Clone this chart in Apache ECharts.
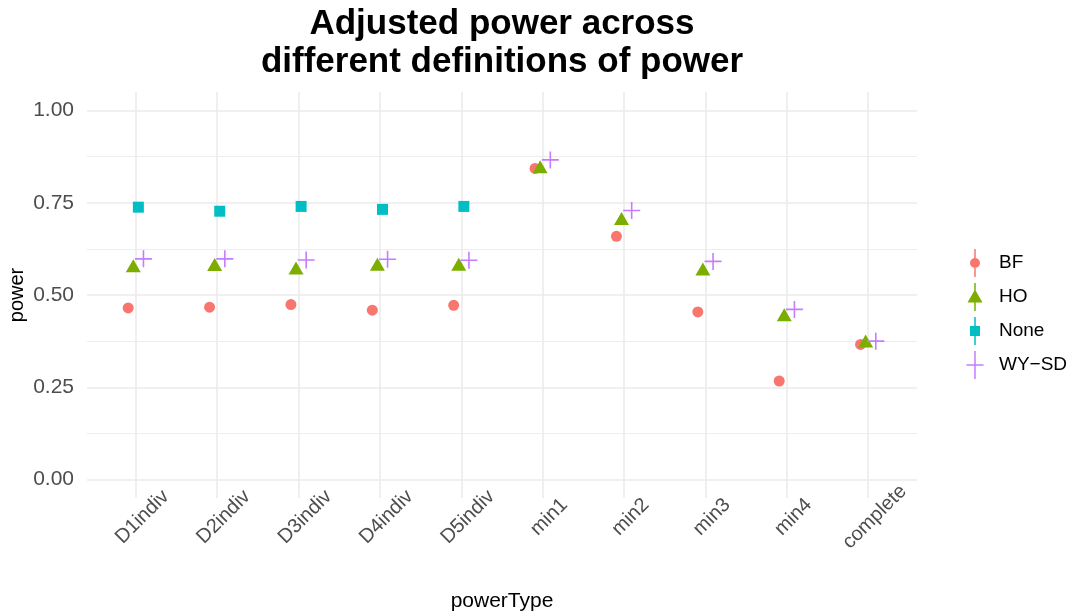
<!DOCTYPE html>
<html>
<head>
<meta charset="utf-8">
<script src="https://cdn.jsdelivr.net/npm/echarts@6/dist/echarts.min.js"></script>
<style>
  html, body { margin: 0; padding: 0; background: #ffffff; }
  #chart { width: 1073px; height: 614px; }
</style>
</head>
<body>
<div id="chart"></div>
<script>
// Power type categories along the x axis
const categories = ['D1indiv', 'D2indiv', 'D3indiv', 'D4indiv', 'D5indiv',
                    'min1', 'min2', 'min3', 'min4', 'complete'];

// Adjusted power per procedure (null = not defined for that power type)
const bf   = [0.465, 0.467, 0.474, 0.459, 0.472, 0.843, 0.659, 0.454, 0.267, 0.366];
const ho   = [0.574, 0.577, 0.568, 0.578, 0.578, 0.842, 0.702, 0.565, 0.441, 0.370];
const none = [0.738, 0.727, 0.740, 0.732, 0.740, null, null, null, null, null];
const wysd = [0.598, 0.598, 0.595, 0.597, 0.594, 0.866, 0.729, 0.591, 0.461, 0.375];

// Axis breaks
const yTicks = [0, 0.25, 0.5, 0.75, 1];
const yMinor = [0.125, 0.375, 0.625, 0.875];

const FONT = '"Liberation Sans", Arial, Helvetica, sans-serif';
const catIdx = categories.map((_, i) => i);

// Legend keys: a vertical line through each point shape (20 x 28 box)
const V = 'M0,0M20,28M9.25,0H10.75V28H9.25Z';
const plusPath = 'path://M7.7,0H9.3V7.7H17V9.3H9.3V17H7.7V9.3H0V7.7H7.7Z';

// Procedures, dodged side by side within each category
const groups = [
  { name: 'BF',    values: bf,   color: '#F8766D', symbol: 'circle',   size: 11, shift: [0, 0],
    icon: 'path://' + V + 'M5,14A5,5 0 1 1 15,14A5,5 0 1 1 5,14Z', dodge: -0.09375 },
  { name: 'HO',    values: ho,   color: '#7CAE00', symbol: 'triangle', size: [15, 13], shift: [0, -2],
    icon: 'path://' + V + 'M10,6.5L17.5,19.5H2.5Z', dodge: -0.03125 },
  { name: 'None',  values: none, color: '#00BFC4', symbol: 'rect',     size: 11, shift: [0, 0],
    icon: 'path://' + V + 'M5,9H15V19H5Z', dodge: 0.03125 },
  { name: 'WY−SD', values: wysd, color: '#C77CFF', symbol: plusPath,   size: 17, shift: [0, 0],
    icon: 'path://' + V + 'M1.5,13.25H18.5V14.75H1.5Z', dodge: 0.09375 }
];

const series = groups.map(g => ({
  name: g.name,
  type: 'scatter',
  symbol: g.symbol,
  symbolSize: g.size,
  symbolOffset: g.shift,
  itemStyle: { color: g.color, opacity: 1 },
  emphasis: { disabled: true },
  data: g.values
    .map((v, i) => (v == null ? null : [i + g.dodge, v]))
    .filter(d => d !== null)
}));

const chart = echarts.init(document.getElementById('chart'), null, { renderer: 'canvas' });

chart.setOption({
  animation: false,
  backgroundColor: '#ffffff',
  title: {
    text: 'Adjusted power across\ndifferent definitions of power',
    left: 497,
    top: 0,
    textAlign: 'center',
    textStyle: {
      fontFamily: FONT, fontSize: 35, fontWeight: 'bold',
      color: '#000000', lineHeight: 38
    }
  },
  legend: {
    orient: 'vertical',
    left: 960,
    top: 244,
    itemWidth: 20,
    itemHeight: 28,
    itemGap: 6,
    selectedMode: false,
    textStyle: { fontFamily: FONT, fontSize: 19, color: '#000000', padding: [0, 0, 0, 9] },
    data: groups.map(g => ({ name: g.name, icon: g.icon }))
  },
  grid: {
    left: 87, top: 92, width: 830, height: 406,
    containLabel: false, outerBoundsMode: 'none'
  },
  xAxis: {
    type: 'value',
    min: -0.6,
    max: 9.6,
    name: 'powerType',
    nameLocation: 'middle',
    nameGap: 93,
    nameMoveOverlap: false,
    nameTextStyle: { fontFamily: FONT, fontSize: 21, color: '#000000' },
    axisLine: { show: false },
    axisTick: { show: false, customValues: catIdx },
    axisLabel: {
      customValues: catIdx.map(i => i + 0.08),
      formatter: v => categories[Math.round(v)],
      rotate: 45,
      align: 'center',
      verticalAlign: 'middle',
      margin: 19,
      fontFamily: FONT,
      fontSize: 20,
      color: '#4D4D4D'
    },
    splitLine: { show: true, lineStyle: { color: '#EBEBEB', width: 1.6 } }
  },
  yAxis: [
    {
      type: 'value',
      min: -0.05,
      max: 1.05,
      name: 'power',
      nameLocation: 'middle',
      nameRotate: 90,
      nameGap: 60,
      nameMoveOverlap: false,
      nameTextStyle: { fontFamily: FONT, fontSize: 20, color: '#000000' },
      axisLine: { show: false },
      axisTick: { show: false, customValues: yTicks },
      axisLabel: {
        customValues: yTicks,
        formatter: v => v.toFixed(2),
        margin: 13,
        fontFamily: FONT,
        fontSize: 21,
        color: '#4D4D4D'
      },
      splitLine: { show: true, lineStyle: { color: '#EBEBEB', width: 1.6 } },
      z: 1
    },
    {
      type: 'value',
      min: -0.05,
      max: 1.05,
      position: 'left',
      axisLine: { show: false },
      axisTick: { show: false, customValues: yMinor },
      axisLabel: { show: false, customValues: yMinor },
      splitLine: { show: true, lineStyle: { color: '#EDEDED', width: 1 } },
      z: 0
    }
  ],
  series: series
});
</script>
</body>
</html>
